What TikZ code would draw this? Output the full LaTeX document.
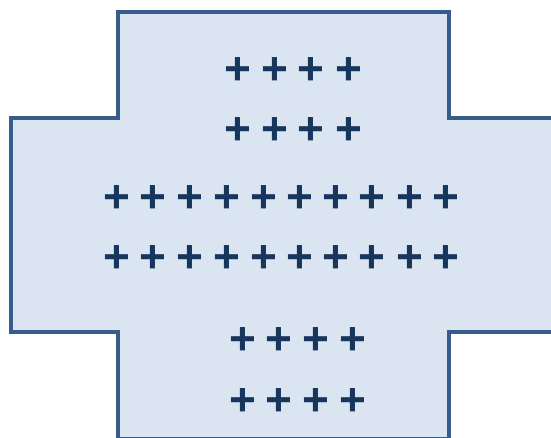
\documentclass[tikz,border=0pt]{standalone}
\usepackage{fontspec}
\setmainfont{Liberation Sans}
\definecolor{shapefill}{HTML}{DBE5F1}
\definecolor{shapeline}{HTML}{385D8A}
\definecolor{plusc}{HTML}{17365D}
\tikzset{
  crossshape/.style={fill=shapefill, draw=shapeline, line width=4.5pt, line join=miter},
  plusmark/.style={text=plusc, font=\bfseries\fontsize{46}{46}\selectfont, inner sep=0pt, yshift=-3pt}
}
\begin{document}
\begin{tikzpicture}[x=1pt,y=-1pt]
\useasboundingbox (0,0) rectangle (551,438);
\clip (0,0) rectangle (551,438);
\draw[crossshape] (118,12) -- (449,12) -- (449,118) -- (570,118) -- (570,332) -- (449,332) -- (449,439)
  -- (118,439) -- (118,332) -- (11,332) -- (11,118) -- (118,118) -- cycle;
% rows 1-2
\foreach \x [count=\i] in {238,275,311,349} {
  \node[plusmark] (a\i) at (\x,68) {+};
  \node[plusmark] (b\i) at (\x,128) {+};
}
% rows 3-4
\foreach \x [count=\i] in {117,153,190,227,264,300,336,372,410,446} {
  \node[plusmark] (c\i) at (\x,196) {+};
  \node[plusmark] (d\i) at (\x,256) {+};
}
% rows 5-6
\foreach \x [count=\i] in {243,279,316,353} {
  \node[plusmark] (e\i) at (\x,338) {+};
  \node[plusmark] (f\i) at (\x,399) {+};
}
\end{tikzpicture}
\end{document}
